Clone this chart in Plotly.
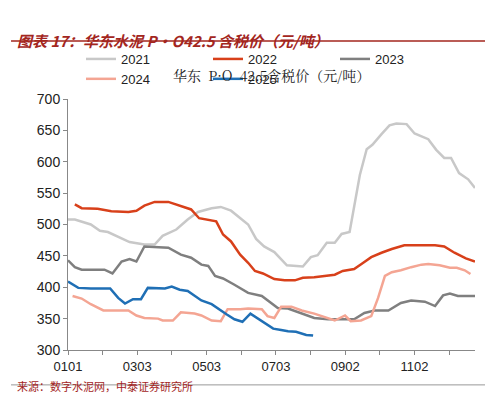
import plotly.graph_objects as go

d21 = [0,6,20,28,35,44,54,67,76,83,95,105,114,126,134,143,151,158,165,172,181,192,206,213,219,227,234,240,247,256,262,267,275,282,288,297,304,316,323,330,336,343,351,357]
v21 = [508,508,500,490,488,480,472,468,468,482,492,508,520,526,528,522,510,500,477,465,456,435,433,448,451,471,471,485,488,579,620,627,644,658,661,660,645,636,619,606,606,582,572,558]
d22 = [6,12,26,38,53,60,67,76,88,99,108,115,123,130,136,143,151,158,164,171,181,190,199,206,216,224,234,241,251,259,266,275,284,295,310,322,330,339,349,357]
v22 = [532,526,525,521,520,522,530,536,536,530,524,510,507,505,484,473,452,439,426,422,413,411,411,415,416,418,420,426,429,439,448,455,461,467,467,467,465,455,446,441]
d23 = [0,6,12,20,32,39,47,54,60,67,79,88,99,108,117,123,129,136,146,158,170,177,184,193,205,216,228,240,251,260,269,281,292,301,313,322,329,335,342,357]
v23 = [443,432,428,428,428,422,441,445,441,465,464,463,452,447,436,434,418,414,404,391,386,377,367,366,358,351,349,349,349,359,363,363,375,379,377,370,387,390,386,386]
d24 = [4,12,20,31,53,60,67,79,83,92,99,111,117,126,134,140,151,158,170,175,181,187,196,205,216,228,234,243,248,257,266,272,278,284,292,301,310,316,326,335,341,348,353]
v24 = [386,382,373,363,363,355,351,350,347,347,360,358,355,347,346,365,365,366,365,354,351,369,369,363,358,351,347,355,346,347,354,383,418,424,427,432,436,437,435,431,431,427,421]
d25 = [0,9,20,37,44,50,57,64,70,79,85,91,98,105,111,117,126,132,139,146,153,160,167,174,180,187,193,200,209,215]
v25 = [409,399,398,398,383,374,381,381,399,398,398,401,396,394,387,379,373,365,357,349,345,358,350,342,334,332,330,329,324,323]

series = [("2021", d21, v21, "#c8c8c8"), ("2022", d22, v22, "#d8401a"),
          ("2023", d23, v23, "#7f7f7f"), ("2024", d24, v24, "#f4a593"),
          ("2025", d25, v25, "#1f6fb5")]
month_days = [round(30.4 * k, 1) for k in range(12)]
tick_text = ["0101", "", "0303", "", "0503", "", "0703", "", "0902", "", "1102", ""]

fig = go.Figure()
for name, x, y, c in series:
    fig.add_trace(go.Scatter(x=x, y=y, name=name, mode="lines", line=dict(color=c, width=2.5)))

fig.update_layout(
    width=493, height=400, margin=dict(l=60, r=26, t=91, b=58),
    paper_bgcolor="white", plot_bgcolor="white",
    font=dict(family="Noto Sans CJK SC, Arial", size=14, color="#222"),
    showlegend=True,
    legend=dict(orientation="h", x=0.5, xanchor="center", y=1.02, yanchor="bottom",
                font=dict(size=13, family="Arial"), itemwidth=30, tracegroupgap=0,
                entrywidth=82, bgcolor="rgba(0,0,0,0)"),
    xaxis=dict(range=[0, 357], tickvals=month_days, ticktext=tick_text, ticks="outside",
               ticklen=4, tickcolor="#888", showline=True, linecolor="#888",
               showgrid=False, zeroline=False, tickfont=dict(size=13, family="Arial")),
    yaxis=dict(range=[300, 700], dtick=50, ticks="outside", ticklen=4, tickcolor="#888",
               showline=True, linecolor="#888", showgrid=False, zeroline=False,
               tickfont=dict(size=14, family="Arial")),
)
fig.add_annotation(text="华东  P·O  42.5含税价（元/吨）", xref="paper", yref="paper",
                   x=0.5, y=1.143, showarrow=False,
                   font=dict(size=14, family="Noto Serif CJK SC, Noto Sans CJK SC"))
fig.add_annotation(text="<i><b>图表 17：华东水泥 P·O42.5 含税价（元/吨）</b></i>", xref="paper", yref="paper",
                   x=-0.13, xanchor="left", y=1.283, showarrow=False,
                   font=dict(size=15, color="#a3261e"))
fig.add_annotation(text="来源：数字水泥网，中泰证券研究所", xref="paper", yref="paper",
                   x=-0.13, xanchor="left", y=-0.183, showarrow=False,
                   font=dict(size=11, color="#a3261e"))
fig.add_shape(type="line", xref="paper", yref="paper", x0=-0.14, x1=1.056, y0=1.231, y1=1.231,
              line=dict(color="#a3261e", width=1.5))
fig.add_shape(type="line", xref="paper", yref="paper", x0=-0.14, x1=1.056, y0=-0.139, y1=-0.139,
              line=dict(color="#999", width=1))
fig.write_html("out.html")
